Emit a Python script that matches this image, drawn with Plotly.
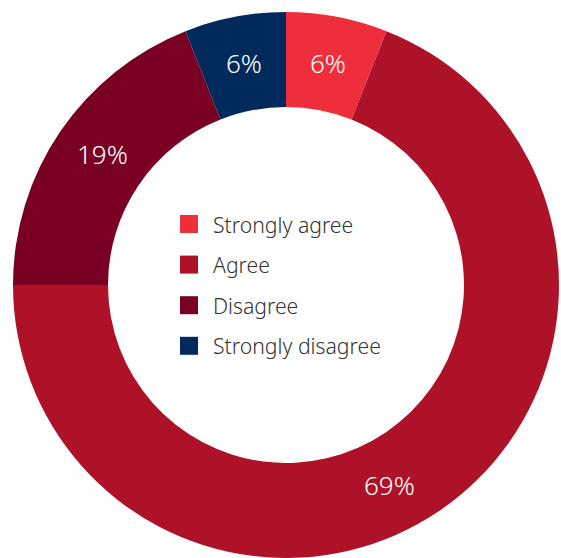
import math
import plotly.graph_objects as go

# Survey response shares
labels = ["Strongly agree", "Agree", "Disagree", "Strongly disagree"]
values = [6, 69, 19, 6]
colors = ["#EE2E3A", "#AE1228", "#7A0023", "#002A5C"]

W, H = 561, 558
FONT = "Noto Sans"

# Donut geometry in pixels
cx, cy, r_out = 286, 285, 273
hole = 0.652

fig = go.Figure(
    go.Pie(
        labels=labels,
        values=values,
        sort=False,
        direction="clockwise",
        rotation=0,
        hole=hole,
        marker=dict(colors=colors, line=dict(width=0)),
        textinfo="none",
        domain=dict(x=[(cx - r_out) / W, (cx + r_out) / W],
                    y=[1 - (cy + r_out) / H, 1 - (cy - r_out) / H]),
        showlegend=False,
        hoverinfo="label+value",
    )
)

# Percentage labels placed in the ring, along each slice's arc
label_frac = [0.5, 0.528, 0.52, 0.5]   # where along the slice the label sits
r_lab = r_out * (1 + hole) / 2
total = sum(values)
annotations = []
cum = 0
for v, f in zip(values, label_frac):
    ang = math.radians(90 - 360 * (cum + v * f) / total)
    cum += v
    annotations.append(dict(text=f"{v}%", xref="paper", yref="paper",
                            x=(cx + r_lab * math.cos(ang)) / W,
                            y=1 - (cy - r_lab * math.sin(ang)) / H,
                            xanchor="center", yanchor="middle", showarrow=False,
                            font=dict(family=FONT, size=26, weight=300,
                                      color="white")))

# Legend drawn inside the donut hole: colour squares plus labels
leg_x0, leg_y0, step, sq = 180, 215, 40.6, 18
shapes = []
for i, (lab, col) in enumerate(zip(labels, colors)):
    top = leg_y0 + i * step
    shapes.append(dict(type="rect", xref="paper", yref="paper",
                       x0=leg_x0 / W, x1=(leg_x0 + sq) / W,
                       y0=1 - (top + sq) / H, y1=1 - top / H,
                       fillcolor=col, line=dict(width=0)))
    annotations.append(dict(text=lab, xref="paper", yref="paper",
                            x=211 / W, y=1 - (top + sq / 2) / H,
                            xanchor="left", yanchor="middle", showarrow=False,
                            font=dict(family=FONT, size=21.2, weight=300,
                                      color="#333333")))

fig.update_layout(
    width=W, height=H,
    margin=dict(l=0, r=0, t=0, b=0),
    paper_bgcolor="white", plot_bgcolor="white",
    shapes=shapes, annotations=annotations,
)

fig.write_html("out.html")
